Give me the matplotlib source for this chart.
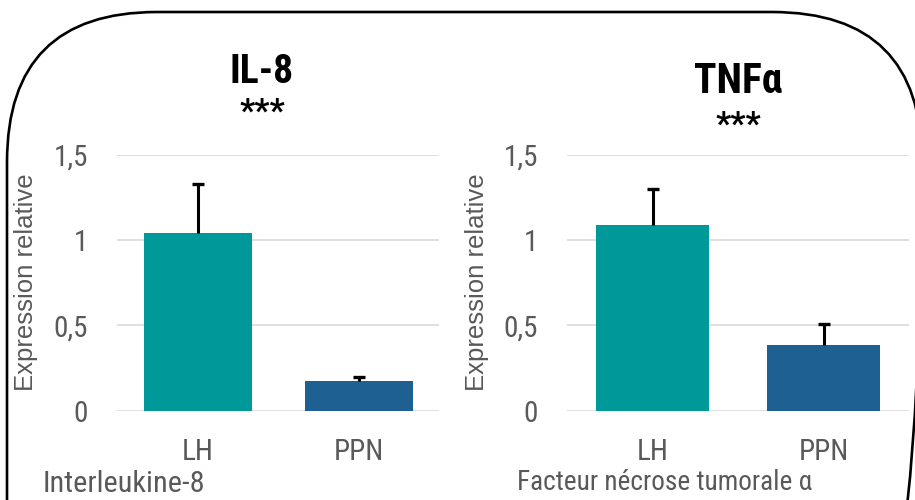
import matplotlib
matplotlib.use("Agg")
import matplotlib.pyplot as plt
from matplotlib import font_manager as fm
from matplotlib.patches import FancyBboxPatch

# données
categories = ["LH", "PPN"]
il8_values = [1.04, 0.173]
il8_err = [0.29, 0.025]
tnf_values = [1.09, 0.385]
tnf_err = [0.21, 0.123]
y_ticks = [0, 0.5, 1, 1.5]
y_ticklabels = ["0", "0,5", "1", "1,5"]
bar_colors = ["#009999", "#1F6092"]

# police étroite si disponible
names = {f.name for f in fm.fontManager.ttflist}
narrow = "Liberation Sans"
for n in ["Liberation Sans Narrow", "Arial Narrow", "Roboto Condensed"]:
    if n in names:
        narrow = n
        break
plain = "Liberation Sans"

grey = "#595959"
fig = plt.figure(figsize=(9.15, 5.0), dpi=100)

# calque en pixels pour le cadre arrondi et les textes libres
bg = fig.add_axes([0, 0, 1, 1])
bg.set_xlim(0, 915)
bg.set_ylim(500, 0)
bg.axis("off")
cadre = FancyBboxPatch((7, 12), 915, 800, boxstyle="round,pad=0,rounding_size=150",
                       fill=False, edgecolor="black", linewidth=1.9)
bg.add_patch(cadre)


def panneau(rect, valeurs, erreurs, largeur):
    ax = fig.add_axes(rect)
    ax.patch.set_alpha(0)
    x = list(range(len(categories)))
    hauts = [v + e for v, e in zip(valeurs, erreurs)]
    ax.bar(x, valeurs, width=largeur, color=bar_colors, zorder=2)
    # barres d'erreur vers le haut seulement
    ax.vlines(x, valeurs, hauts, color="black", linewidth=2.2, zorder=3)
    ax.plot(x, hauts, linestyle="none", marker="_", markersize=9, markeredgewidth=2.4,
            color="black", zorder=3)
    ax.set_xlim(-0.5, 1.5)
    ax.set_ylim(0, 1.5)
    ax.set_yticks(y_ticks)
    ax.set_yticklabels(y_ticklabels)
    ax.set_xticks(x)
    ax.set_xticklabels(categories)
    for s in ax.spines.values():
        s.set_visible(False)
    ax.grid(axis="y", color="#D9D9D9", linewidth=1.2, zorder=0)
    ax.tick_params(axis="y", length=0, pad=21, labelsize=21, labelcolor=grey)
    ax.tick_params(axis="x", length=0, pad=20, labelsize=21, labelcolor=grey)
    for t in ax.get_xticklabels() + ax.get_yticklabels():
        t.set_fontfamily(narrow)
    return ax


panneau([117.3 / 915, 89.5 / 500, 322 / 915, 255.5 / 500], il8_values, il8_err, 0.669)
panneau([567.3 / 915, 89.5 / 500, 341.7 / 915, 255.5 / 500], tnf_values, tnf_err, 0.663)

# titres
bg.text(262, 83, "IL-8", ha="center", va="baseline", fontsize=28.5, fontweight="bold", family=narrow)
bg.text(262, 122, "***", ha="center", va="baseline", fontsize=24, fontweight="bold", family=narrow)
bg.text(738, 93, "TNFα", ha="center", va="baseline", fontsize=30, fontweight="bold", family=narrow)
bg.text(738, 135, "***", ha="center", va="baseline", fontsize=24, fontweight="bold", family=narrow)

# axes y
for xl in (26, 477):
    bg.text(xl, 282, "Expression relative", rotation=90, ha="center", va="center",
            fontsize=18.5, color=grey, family=plain)

# légendes du bas
bg.text(43, 492, "Interleukine-8", ha="left", va="baseline", fontsize=21.8, color=grey, family=narrow)
bg.text(517, 490, "Facteur nécrose tumorale α", ha="left", va="baseline", fontsize=19.6,
        color=grey, family=narrow)

fig.savefig("out.png", dpi=100)
